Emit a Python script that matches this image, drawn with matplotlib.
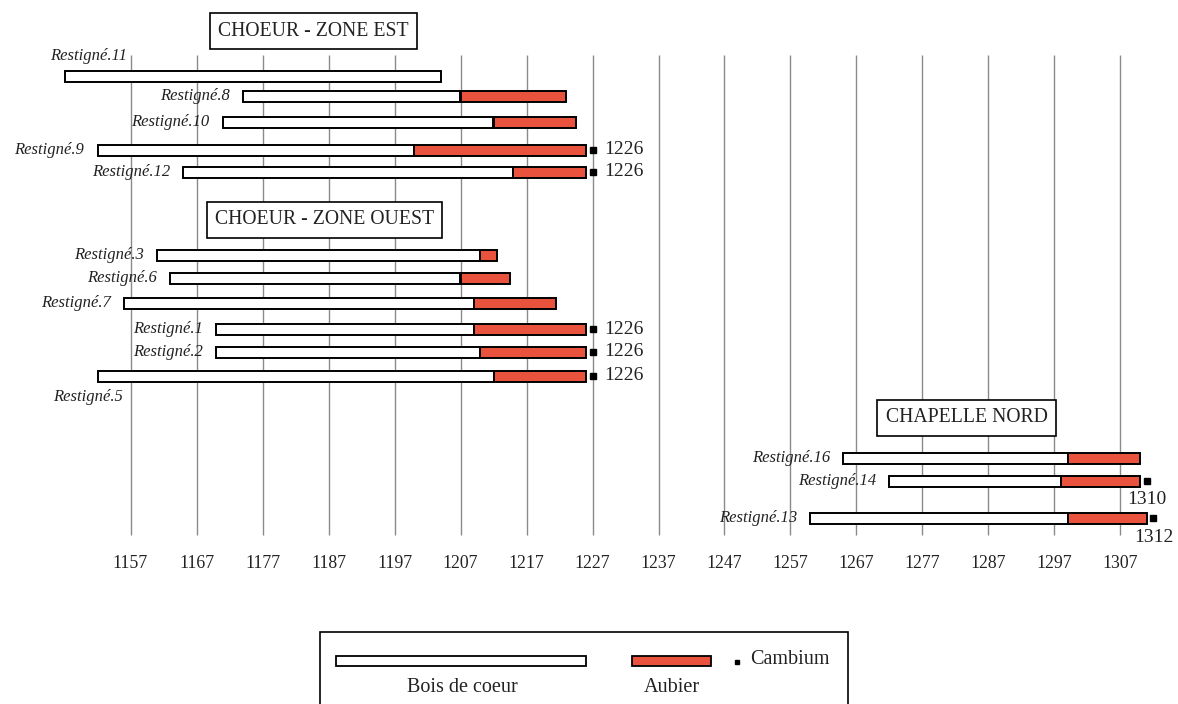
import matplotlib.pyplot as plt
from matplotlib.patches import Rectangle

# === data (years) ===
samples = ['Restigné.11', 'Restigné.8', 'Restigné.10', 'Restigné.9', 'Restigné.12',
           'Restigné.3', 'Restigné.6', 'Restigné.7', 'Restigné.1', 'Restigné.2',
           'Restigné.5', 'Restigné.16', 'Restigné.14', 'Restigné.13']
start_year = [1147, 1174, 1171, 1152, 1165, 1161, 1163, 1156, 1170, 1170, 1152, 1265, 1272, 1260]
heart_end = [1204, 1207, 1212, 1200, 1215, 1210, 1207, 1209, 1209, 1210, 1212, 1299, 1298, 1299]
sap_end = [None, 1223, 1224.5, 1226, 1226, 1212.5, 1214.5, 1221.5, 1226, 1226, 1226, 1310, 1310, 1311]
cambium = [None, None, None, 1226, 1226, None, None, None, 1226, 1226, 1226, None, 1310, 1312]

zones = ['CHOEUR - ZONE EST', 'CHOEUR - ZONE OUEST', 'CHAPELLE NORD']
tick_years = list(range(1157, 1308, 10))

# === layout (pixel rows, top = 0) ===
row_y = [76, 96, 122, 150, 172, 255, 278, 303, 329, 352, 376, 458, 481, 518]
zone_pos = [(1184.7, 31), (1186.4, 220), (1283.7, 418)]
bar_h = 11
red = '#E9533D'
serif = 'Liberation Serif'
txt = '#222222'

W, H = 1178, 704
px_per_year = 6.6
x0 = 1157 - 130.5 / px_per_year
x1 = x0 + W / px_per_year

fig = plt.figure(figsize=(W / 100, H / 100), dpi=100)
ax = fig.add_axes([0, 0, 1, 1])
ax.set_xlim(x0, x1)
ax.set_ylim(H, 0)
ax.axis('off')

# grid lines
ax.vlines(tick_years, 55, 535, colors='#8a8a8a', linewidth=1, zorder=0)

# tick labels
for yr in tick_years:
    ax.text(yr, 564, str(yr), ha='center', va='center', fontsize=12.8, family=serif, color=txt)

# bars
for i, name in enumerate(samples):
    y = row_y[i]
    ax.barh(y, heart_end[i] - start_year[i], left=start_year[i], height=bar_h,
            color='white', edgecolor='black', linewidth=1.4, zorder=2)
    if sap_end[i] is not None:
        ax.barh(y, sap_end[i] - heart_end[i], left=heart_end[i], height=bar_h,
                color=red, edgecolor='black', linewidth=1.4, zorder=2)
    # sample label
    if name == 'Restigné.11':
        lx, ly = 1156.5, y - 20
    elif name == 'Restigné.5':
        lx, ly = 1155.8, y + 21
    else:
        lx, ly = start_year[i] - 2.0, y
    ax.text(lx, ly, name, ha='right', va='center', fontsize=12, family=serif,
            style='italic', color=txt, zorder=3)
    # cambium
    if cambium[i] is not None:
        ax.plot(sap_end[i] + 1.0, y, 's', color='black', markersize=3.8, zorder=3)
        if cambium[i] == 1226:
            ax.text(1228.8, y, str(cambium[i]), ha='left', va='center', fontsize=14,
                    family=serif, color=txt)
        else:
            ax.text(sap_end[i] + 1.0, y + 19, str(cambium[i]), ha='center', va='center',
                    fontsize=14, family=serif, color=txt)

# zone titles
for (zx, zy), z in zip(zone_pos, zones):
    ax.text(zx, zy, z, ha='center', va='center', fontsize=14.2, family=serif, color=txt,
            bbox=dict(boxstyle='square,pad=0.42', facecolor='white', edgecolor='black', linewidth=1.2),
            zorder=4)

# legend drawn in pixel space
lax = fig.add_axes([0, 0, 1, 1])
lax.set_xlim(0, W)
lax.set_ylim(H, 0)
lax.axis('off')
lax.patch.set_alpha(0)
lax.add_patch(Rectangle((320, 632), 528, 80, facecolor='white', edgecolor='black', linewidth=1.2))
lax.add_patch(Rectangle((336, 656), 250, 10, facecolor='white', edgecolor='black', linewidth=1.3))
lax.add_patch(Rectangle((632, 656), 79, 10, facecolor=red, edgecolor='black', linewidth=1.3))
lax.plot(737, 662, 's', color='black', markersize=3)
lax.text(750, 659, 'Cambium', ha='left', va='center', fontsize=14.5, family=serif, color=txt)
lax.text(462, 688, 'Bois de coeur', ha='center', va='center', fontsize=14.5, family=serif, color=txt)
lax.text(672, 688, 'Aubier', ha='center', va='center', fontsize=14.5, family=serif, color=txt)

plt.savefig('out.png', dpi=100)
